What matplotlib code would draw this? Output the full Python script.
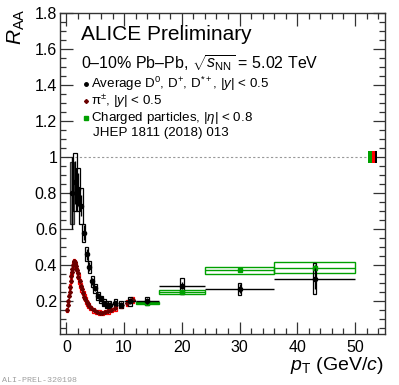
import matplotlib
matplotlib.use('Agg')
import matplotlib.pyplot as plt
from matplotlib.lines import Line2D
from matplotlib.ticker import MultipleLocator, FuncFormatter

plt.rcParams['font.family'] = ['Liberation Sans', 'DejaVu Sans']
plt.rcParams['mathtext.fontset'] = 'custom'
plt.rcParams['mathtext.rm'] = 'Liberation Sans'
plt.rcParams['mathtext.it'] = 'Liberation Sans:italic'
plt.rcParams['mathtext.bf'] = 'Liberation Sans:bold'

# average D0, D+, D*+ (black)
d_pt = [1.0, 1.5, 2.0, 2.5, 3.0, 3.5, 4.0, 4.5, 5.0, 5.5, 6.0, 6.5, 7.0, 7.5, 8.5, 9.5, 11.0, 14.0, 20.0, 30.0, 43.0]
d_xerr = [0.25, 0.25, 0.25, 0.25, 0.25, 0.25, 0.25, 0.25, 0.25, 0.25, 0.25, 0.25, 0.25, 0.25, 0.5, 0.5, 1.0, 2.0, 4.0, 6.0, 7.0]
d_R = [0.80, 0.86, 0.82, 0.73, 0.58, 0.46, 0.39, 0.31, 0.27, 0.23, 0.21, 0.19, 0.18, 0.18, 0.19, 0.18, 0.20, 0.20, 0.285, 0.267, 0.325]
d_stat = [0.20, 0.12, 0.09, 0.06, 0.04, 0.03, 0.025, 0.02, 0.015, 0.015, 0.012, 0.012, 0.012, 0.012, 0.012, 0.015, 0.015, 0.015, 0.02, 0.025, 0.06]
d_syst = [0.17, 0.16, 0.12, 0.10, 0.05, 0.04, 0.035, 0.03, 0.025, 0.022, 0.02, 0.02, 0.02, 0.02, 0.02, 0.02, 0.025, 0.02, 0.045, 0.035, 0.087]

# pi+- (red boxes)
pi_pt = [0.15, 0.25, 0.35, 0.45, 0.55, 0.65, 0.75, 0.85, 0.95, 1.05, 1.15, 1.25, 1.35, 1.45, 1.55, 1.65, 1.75, 1.85, 1.95,
         2.1, 2.3, 2.5, 2.7, 2.9, 3.1, 3.3, 3.5, 3.7, 3.9, 4.25, 4.75, 5.25, 5.75, 6.25, 6.75, 7.25, 7.75, 8.5, 9.5, 10.5, 11.5]
pi_R = [0.15, 0.18, 0.20, 0.23, 0.25, 0.28, 0.31, 0.34, 0.36, 0.38, 0.40, 0.415, 0.42, 0.415, 0.405, 0.395, 0.38, 0.37, 0.355,
        0.335, 0.31, 0.285, 0.265, 0.245, 0.225, 0.21, 0.195, 0.185, 0.175, 0.16, 0.148, 0.14, 0.136, 0.135, 0.138, 0.143, 0.15, 0.16, 0.175, 0.19, 0.205]
pi_syst = [0.01, 0.01, 0.01, 0.01, 0.01, 0.012, 0.012, 0.014, 0.014, 0.015, 0.015, 0.015, 0.015, 0.015, 0.015, 0.015, 0.015, 0.015, 0.015,
           0.014, 0.014, 0.013, 0.013, 0.013, 0.012, 0.012, 0.012, 0.012, 0.012, 0.012, 0.012, 0.012, 0.012, 0.012, 0.012, 0.013, 0.013, 0.014, 0.015, 0.016, 0.017]

# charged particles (green)
ch_pt = [14.0, 20.0, 30.0, 43.0]
ch_xerr = [2.0, 4.0, 6.0, 7.0]
ch_R = [0.19, 0.249, 0.37, 0.385]
ch_stat = [0.002, 0.003, 0.005, 0.02]
ch_syst = [0.005, 0.012, 0.02, 0.031]

# normalisation uncertainties at R_AA = 1 (green, red, black)
norm_x = [52.6, 53.2, 53.7]
norm_w = [0.6, 0.6, 0.4]
norm_unc = [0.032, 0.035, 0.032]
norm_col = ['#00a000', '#ff0000', '#000000']

green = '#00a000'
darkred = '#6a0000'

fig = plt.figure(figsize=(3.99, 3.85), dpi=100)
ax = fig.add_axes([60 / 399, 1 - 334 / 385, 325 / 399, 321 / 385])

ax.hlines(1.0, 0, 52.3, colors='#999999', linestyles=(0, (2, 2)), lw=0.8, zorder=1)
ax.bar(norm_x, [2 * u for u in norm_unc], bottom=[1 - u for u in norm_unc], width=norm_w, color=norm_col, zorder=3)

# charged particle boxes + points
ax.bar(ch_pt, [2 * s for s in ch_syst], bottom=[r - s for r, s in zip(ch_R, ch_syst)], width=[2 * w for w in ch_xerr],
       fill=False, edgecolor=green, lw=1.0, zorder=2)
ax.errorbar(ch_pt, ch_R, yerr=ch_stat, xerr=ch_xerr, fmt='s', ms=3, color=green, elinewidth=1.0, capsize=0, zorder=4)

# pion boxes + points
pi_w = [0.3 if p < 2 else 0.5 for p in pi_pt]
ax.bar(pi_pt, [2 * s for s in pi_syst], bottom=[r - s for r, s in zip(pi_R, pi_syst)], width=pi_w,
       fill=False, edgecolor='#ff0000', lw=0.9, zorder=3)
ax.plot(pi_pt, pi_R, 'D', ms=2, color=darkred, zorder=5)

# D meson boxes + points
ax.bar(d_pt[:1], [2 * d_syst[0]], bottom=[d_R[0] - d_syst[0]], width=0.6, color='#8a8a8a', edgecolor='#333333', lw=0.9, zorder=3)
ax.bar(d_pt[1:], [2 * s for s in d_syst[1:]], bottom=[r - s for r, s in zip(d_R[1:], d_syst[1:])], width=0.6,
       fill=False, edgecolor='k', lw=0.9, zorder=3)
ax.errorbar(d_pt, d_R, yerr=d_stat, xerr=d_xerr, fmt='o', ms=3, color='k', elinewidth=1.0, capsize=0, zorder=6)

ax.set_xlim(-1.1, 55.2)
ax.set_ylim(0.017, 1.8)
ax.xaxis.set_major_locator(MultipleLocator(10))
ax.xaxis.set_minor_locator(MultipleLocator(2))
ax.yaxis.set_major_locator(MultipleLocator(0.2))
ax.yaxis.set_minor_locator(MultipleLocator(0.05))
ax.yaxis.set_major_formatter(FuncFormatter(lambda v, p: f'{v:g}'))
ax.tick_params(which='both', direction='in', top=True, right=True, labelsize=11.5, width=0.9, color='#333333')
ax.tick_params(which='major', length=9)
ax.tick_params(which='minor', length=4.5)
ax.tick_params(axis='y', pad=2)
ax.tick_params(axis='x', pad=4)
for s in ax.spines.values():
    s.set_linewidth(1.0)
    s.set_color('#333333')

ax.set_ylabel(r'$R_{\rm AA}$', fontsize=15, loc='top')
ax.yaxis.set_label_coords(-0.10, 1.015)
ax.set_xlabel(r'$p_{\rm T}$ (GeV/$c$)', fontsize=14, loc='right')
ax.xaxis.set_label_coords(0.995, -0.065)

fig.text(81 / 399, 1 - 35 / 385, 'ALICE Preliminary', fontsize=15, va='center')
fig.text(81 / 399, 1 - 63 / 385, r'0–10% Pb–Pb, $\sqrt{s_{\rm NN}}$ = 5.02 TeV', fontsize=11.5, va='center')

# legend rows drawn by hand so the spacing matches
leg_y = [84, 101, 118]
leg_marker = [('o', 'k', 2.5), ('D', darkred, 2), ('s', green, 3)]
leg_text = [r'Average D$^{0}$, D$^{+}$, D$^{*+}$, $|y|$ < 0.5',
            r'π$^{\pm}$, $|y|$ < 0.5',
            r'Charged particles, $|\eta|$ < 0.8']
for yy, (m, c, ms), t in zip(leg_y, leg_marker, leg_text):
    fig.add_artist(Line2D([86 / 399], [1 - yy / 385], transform=fig.transFigure, marker=m, color=c, ms=ms, ls='none'))
    fig.text(91 / 399, 1 - yy / 385, t, fontsize=9.6, va='center')
fig.text(93 / 399, 1 - 133 / 385, 'JHEP 1811 (2018) 013', fontsize=9.6, va='center')

fig.text(2 / 399, 1 - 380 / 385, 'ALI-PREL-320198', fontsize=6, color='#a0a0a0', family='Liberation Mono', va='center')

fig.savefig('out.png', dpi=100)
